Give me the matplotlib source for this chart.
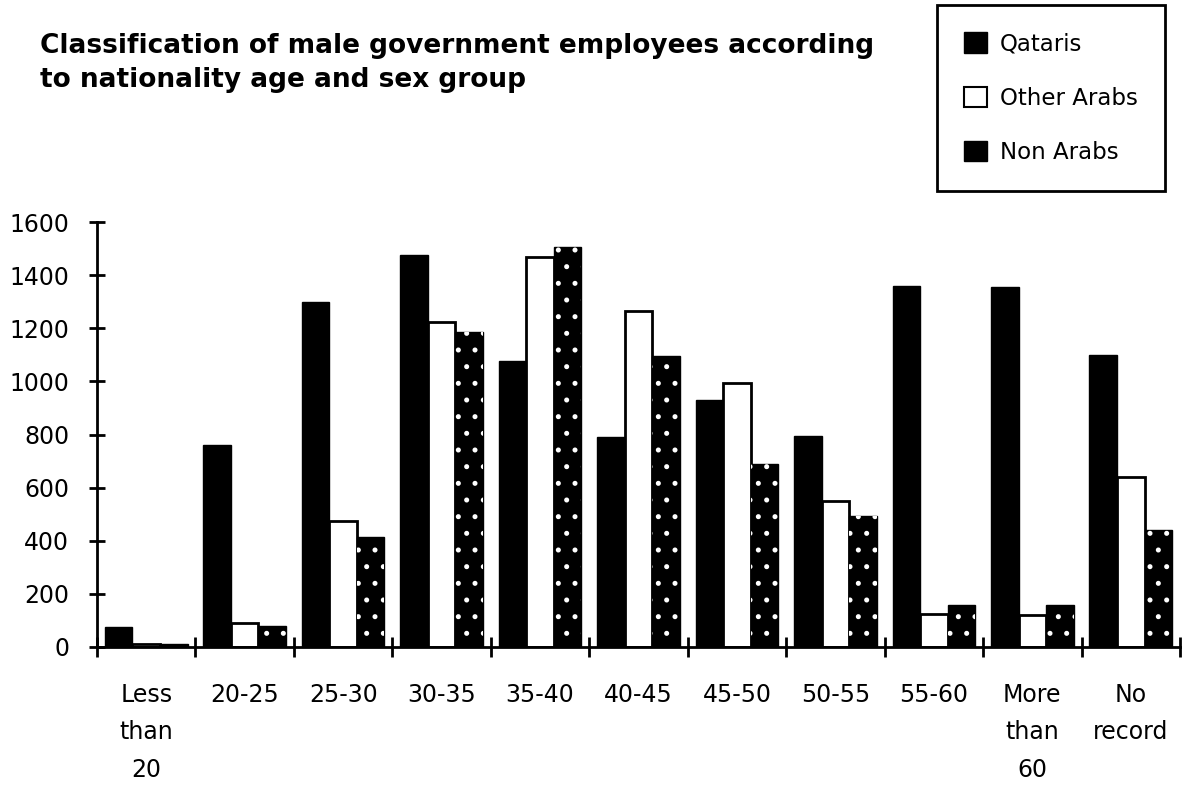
import matplotlib
matplotlib.use("Agg")
import matplotlib.pyplot as plt
from matplotlib.patches import Rectangle
import numpy as np

# data
categories = ["Less\nthan\n20", "20-25", "25-30", "30-35", "35-40", "40-45",
              "45-50", "50-55", "55-60", "More\nthan\n60", "No\nrecord"]
qataris = [75, 760, 1300, 1475, 1075, 790, 930, 795, 1360, 1355, 1100]
other_arabs = [10, 90, 475, 1225, 1470, 1265, 995, 550, 125, 120, 640]
non_arabs = [10, 80, 415, 1185, 1505, 1095, 690, 495, 160, 160, 440]
series_names = ["Qataris", "Other Arabs", "Non Arabs"]
y_ticks = [0, 200, 400, 600, 800, 1000, 1200, 1400, 1600]

title = ("Classification of male government employees according\n"
         "to nationality age and sex group")

plt.rcParams["hatch.linewidth"] = 1.2

fig = plt.figure(figsize=(11.84, 7.85), dpi=100)
ax = fig.add_axes([97 / 1184, 1 - 647 / 785, (1180 - 97) / 1184, (647 - 222) / 785])

x = np.arange(len(categories))
w = 0.28

# Qataris: solid black
ax.bar(x - w, qataris, w, color="black", edgecolor="black", linewidth=1)
# Other Arabs: white with black outline
ax.bar(x, other_arabs, w, color="white", edgecolor="black", linewidth=2)
# Non Arabs: black with white speckle
ax.bar(x + w, non_arabs, w, color="black", edgecolor="black", linewidth=1)
ax.bar(x + w, non_arabs, w, fill=False, edgecolor="white", hatch=".", linewidth=0)

ax.set_xlim(-0.5, len(categories) - 0.5)
ax.set_ylim(0, 1600)

for s in ["top", "right"]:
    ax.spines[s].set_visible(False)
ax.spines["left"].set_linewidth(2)
ax.spines["bottom"].set_linewidth(2)

ax.set_yticks(y_ticks)
ax.set_yticklabels([str(v) for v in y_ticks], fontsize=17, family="DejaVu Sans")
ax.tick_params(axis="y", direction="inout", length=12, width=2, pad=14)

ax.set_xticks(x)
ax.set_xticklabels(categories, fontsize=17, linespacing=1.7, family="DejaVu Sans",
                   va="top")
ax.set_xticks(np.arange(len(categories) + 1) - 0.5, minor=True)
ax.tick_params(axis="x", which="major", length=0, pad=26)
ax.tick_params(axis="x", which="minor", direction="inout", length=14, width=2)

fig.text(40 / 1184, 1 - 33 / 785, title, ha="left", va="top", fontsize=19,
         fontweight="bold", family="DejaVu Sans", linespacing=1.4)

handles = [
    Rectangle((0, 0), 1, 1, facecolor="black", edgecolor="black"),
    Rectangle((0, 0), 1, 1, facecolor="white", edgecolor="black", linewidth=1.5),
    Rectangle((0, 0), 1, 1, facecolor="black", edgecolor="black"),
]
leg = fig.legend(handles, series_names, loc="upper right",
                 bbox_to_anchor=(1165 / 1184, 1 - 5 / 785),
                 fancybox=False, edgecolor="black", framealpha=1,
                 prop={"family": "DejaVu Sans", "size": 16.5},
                 handlelength=1.0, handleheight=1.0, handletextpad=0.55,
                 labelspacing=1.35, borderpad=1.2, borderaxespad=0)
leg.get_frame().set_linewidth(2)

fig.savefig("out.png", dpi=100)
